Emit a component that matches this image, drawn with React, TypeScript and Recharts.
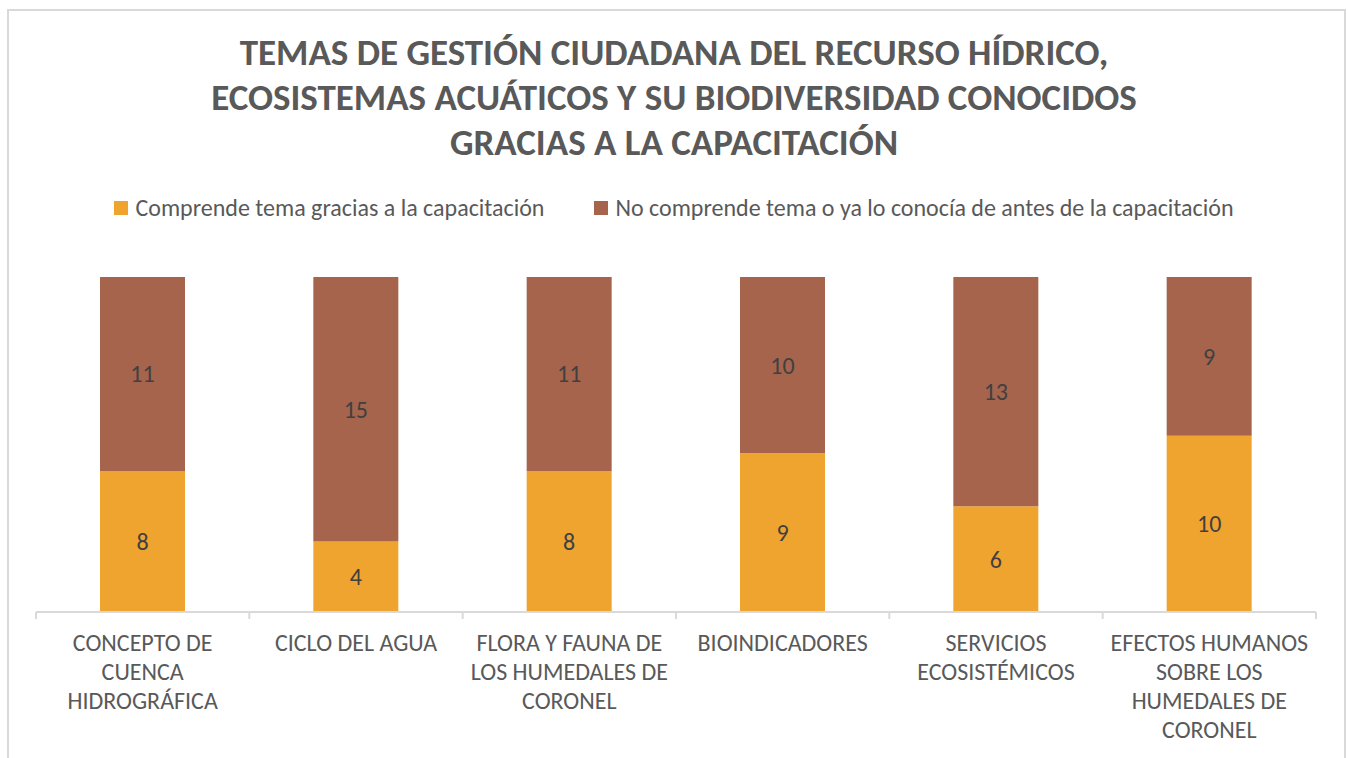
import { Bar, BarChart, LabelList, XAxis, YAxis } from 'recharts'

const TITLE_LINES = [
  'TEMAS DE GESTIÓN CIUDADANA DEL RECURSO HÍDRICO,',
  'ECOSISTEMAS ACUÁTICOS Y SU BIODIVERSIDAD CONOCIDOS',
  'GRACIAS A LA CAPACITACIÓN',
]

const CATEGORIES = [
  'CONCEPTO DE CUENCA HIDROGRÁFICA',
  'CICLO DEL AGUA',
  'FLORA Y FAUNA DE LOS HUMEDALES DE CORONEL',
  'BIOINDICADORES',
  'SERVICIOS ECOSISTÉMICOS',
  'EFECTOS HUMANOS SOBRE LOS HUMEDALES DE CORONEL',
]
const COMPRENDE = [8, 4, 8, 9, 6, 10]
const NO_COMPRENDE = [11, 15, 11, 10, 13, 9]

const SERIES_NAMES = [
  'Comprende tema gracias a la capacitación',
  'No comprende tema o ya lo conocía de antes de la capacitación',
]
const COLORS = ['#F0A430', '#A6644D']

const FONT = 'Calibri, Carlito, Lato, "Open Sans", sans-serif'
const TEXT = '#595959'

const W = 1348
const H = 758
const LEFT = 36
const RIGHT = 32
const BAND = (W - LEFT - RIGHT) / CATEGORIES.length

const chartData = CATEGORIES.map((name, i) => ({
  name,
  comprende: COMPRENDE[i],
  noComprende: NO_COMPRENDE[i],
}))

function wrap(text: string, max = 17) {
  const lines: string[] = []
  let cur = ''
  for (const w of text.split(' ')) {
    if (cur && (cur + ' ' + w).length > max) {
      lines.push(cur)
      cur = w
    } else {
      cur = cur ? cur + ' ' + w : w
    }
  }
  if (cur) lines.push(cur)
  return lines
}

function CategoryTick(props: any) {
  const { x, y, payload, index } = props
  const lines = wrap(String(payload.value))
  const last = index === CATEGORIES.length - 1
  return (
    <g>
      <line x1={x - BAND / 2} x2={x - BAND / 2} y1={y - 8} y2={y - 1} stroke="#d9d9d9" strokeWidth={2} />
      {last && <line x1={x + BAND / 2} x2={x + BAND / 2} y1={y - 8} y2={y - 1} stroke="#d9d9d9" strokeWidth={2} />}
      <text textAnchor="middle" fill={TEXT} fontSize={24} fontFamily={FONT}>
        {lines.map((l, i) => (
          <tspan key={i} x={x} y={y + 31 + i * 29}>
            {l}
          </tspan>
        ))}
      </text>
    </g>
  )
}

export default function App() {
  return (
    <div style={{ position: 'absolute', left: 0, top: 0, width: W, height: H, background: '#fff', overflow: 'hidden' }}>
      <div
        style={{
          position: 'absolute',
          left: 7,
          top: 9,
          width: 1335,
          height: 760,
          border: '2px solid #d9d9d9',
          borderBottom: 'none',
        }}
      />
      <div
        style={{
          position: 'absolute',
          left: 0,
          top: 30,
          width: W,
          textAlign: 'center',
          fontFamily: FONT,
          fontWeight: 700,
          fontSize: 37,
          lineHeight: '45px',
          color: TEXT,
        }}
      >
        {TITLE_LINES.map((l) => (
          <div key={l}>{l}</div>
        ))}
      </div>
      <div
        style={{
          position: 'absolute',
          left: 0,
          top: 193,
          width: W,
          display: 'flex',
          justifyContent: 'center',
          gap: 50,
          fontFamily: FONT,
          fontSize: 24,
          lineHeight: '30px',
          color: TEXT,
        }}
      >
        {SERIES_NAMES.map((n, i) => (
          <div key={n} style={{ display: 'flex', alignItems: 'center', gap: 7 }}>
            <span style={{ width: 14, height: 14, background: COLORS[i], display: 'inline-block' }} />
            <span>{n}</span>
          </div>
        ))}
      </div>
      <div style={{ position: 'absolute', left: 0, top: 0 }}>
        <BarChart
          width={W}
          height={H}
          data={chartData}
          margin={{ top: 277, right: RIGHT, bottom: 0, left: LEFT }}
          barSize={85}
        >
          <YAxis hide domain={[0, 19]} />
          <XAxis
            dataKey="name"
            interval={0}
            tickLine={false}
            axisLine={{ stroke: '#d9d9d9', strokeWidth: 2 }}
            tick={<CategoryTick />}
            height={146}
          />
          <Bar dataKey="comprende" name={SERIES_NAMES[0]} stackId="a" fill={COLORS[0]} isAnimationActive={false}>
            <LabelList dataKey="comprende" position="center" fill="#404040" fontSize={24} fontFamily={FONT} />
          </Bar>
          <Bar dataKey="noComprende" name={SERIES_NAMES[1]} stackId="a" fill={COLORS[1]} isAnimationActive={false}>
            <LabelList dataKey="noComprende" position="center" fill="#404040" fontSize={24} fontFamily={FONT} />
          </Bar>
        </BarChart>
      </div>
    </div>
  )
}
